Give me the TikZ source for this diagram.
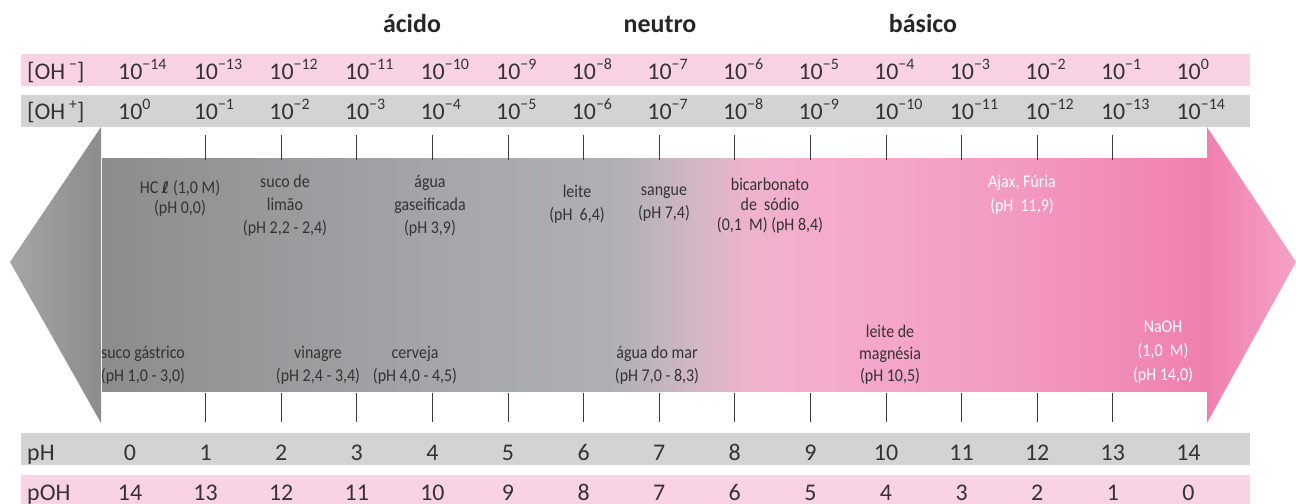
\documentclass[tikz,border=0pt]{standalone}
\usepackage{fontspec}
\setmainfont{Carlito}
\newfontfamily\dejavu{DejaVu Sans}
\newfontfamily\lblfont[FakeStretch=0.89]{Carlito}
\definecolor{rowpink}{HTML}{F9D3E3}
\definecolor{rowgrey}{HTML}{D1D3D4}
\definecolor{txt}{HTML}{333333}
\definecolor{tickc}{HTML}{3A3A3A}
\definecolor{cA}{HTML}{8C8C8E}
\definecolor{cB}{HTML}{9A9A9D}
\definecolor{cC}{HTML}{A6A7AA}
\definecolor{cD}{HTML}{B1B1B5}
\definecolor{cE}{HTML}{D2B7C5}
\definecolor{cF}{HTML}{EFB3CD}
\definecolor{cG}{HTML}{F4ADCD}
\definecolor{cH}{HTML}{F39BC2}
\definecolor{cI}{HTML}{F07FB0}
\definecolor{tipgrey}{HTML}{A6A6A8}
\definecolor{tippink}{HTML}{F4A3C6}
\pgfdeclarehorizontalshading{phbody}{100bp}{color(0bp)=(cA); color(25bp)=(cA); color(33bp)=(cB); color(41bp)=(cC); color(48.5bp)=(cD); color(51.8bp)=(cE); color(54.3bp)=(cF); color(57bp)=(cG); color(66bp)=(cH); color(75bp)=(cI); color(100bp)=(cI)}
\newcommand\ex[1]{10\raisebox{0.42em}{\fontsize{16}{16}\selectfont #1}}
\newcommand\supx[1]{\raisebox{0.42em}{\fontsize{16}{16}\selectfont #1}}
\begin{document}
\begin{tikzpicture}[x=1bp,y=-1bp,
  rowtxt/.style={font=\fontsize{24}{28}\selectfont, text=txt, inner sep=0pt},
  head/.style={font=\fontsize{26}{30}\selectfont\bfseries, text=black!85, inner sep=0pt, anchor=base},
  lbl/.style={align=center, font=\lblfont\fontsize{18}{23}\selectfont, text=txt, inner sep=0pt},
  lbltight/.style={align=center, font=\lblfont\fontsize{18}{20}\selectfont, text=txt, inner sep=0pt},
  lblmid/.style={align=center, font=\lblfont\fontsize{18}{22}\selectfont, text=txt, inner sep=0pt},
  wlbl/.style={align=center, font=\lblfont\fontsize{18}{24}\selectfont, text=white, inner sep=0pt},
  tick/.style={draw=tickc, line width=1bp}]
\useasboundingbox (0,0) rectangle (1296,504);
% headings
\node[head] (acido) at (412,33) {ácido};
\node[head] (neutro) at (660,33) {neutro};
\node[head] (basico) at (923,33) {básico};
% rows
\fill[rowpink] (21,54) rectangle (1250,86);
\fill[rowgrey] (21,95) rectangle (1250,127);
\fill[rowgrey] (21,433) rectangle (1250,465);
\fill[rowpink] (21,475) rectangle (1250,504);
\node[rowtxt, anchor=base west] (ohm) at (27,80) {[OH\,\supx{−}]};
\node[rowtxt, anchor=base west] (ohp) at (27,120) {[OH\,\supx{+}]};
\node[rowtxt, anchor=base west] (phl) at (27,460) {pH};
\node[rowtxt, anchor=base west] (pohl) at (27,500) {pOH};
\foreach \k in {0,...,14}{
  \pgfmathtruncatemacro\a{14-\k}
  \pgfmathtruncatemacro\c{14-\k}
  \ifnum\a=0 \def\sa{0}\else \edef\sa{−\a}\fi
  \ifnum\k=0 \def\sb{0}\else \edef\sb{−\k}\fi
  \node[rowtxt, anchor=base west] (r1-\k) at ({118+75.6*\k},80) {\ex{\sa}};
  \node[rowtxt, anchor=base west] (r2-\k) at ({118+75.6*\k},120) {\ex{\sb}};
  \node[rowtxt, anchor=base] (ph-\k) at ({130+75.6*\k},460) {\k};
  \node[rowtxt, anchor=base] (poh-\k) at ({130+75.6*\k},500) {\c};
}
% arrow
\shade[left color=tipgrey, right color=cA] (101,127) -- (101,423) -- (10,262) -- cycle;
\shade[left color=cI, right color=tippink] (1207,127) -- (1207,423) -- (1296,262) -- cycle;
\shade[shading=phbody] (102,159) rectangle (1207,392);
% ticks
\foreach \k in {1,...,13}{
  \coordinate (ta-\k) at ({130+75.6*\k},135);
  \coordinate (tb-\k) at ({130+75.6*\k},160);
  \coordinate (bb-\k) at ({130+75.6*\k},393);
  \coordinate (bc-\k) at ({130+75.6*\k},422);
  \draw[tick] (ta-\k) -- (tb-\k);
  \draw[tick] (bb-\k) -- (bc-\k);
}
% labels
\node[lbltight] (hcl) at (180,198) {HC {\dejavu\bfseries\fontsize{16}{20}\selectfont ℓ} (1,0 M)\\(pH 0,0)};
\node[lbl] (limao) at (285,206) {suco de\\limão\\(pH 2,2 - 2,4)};
\node[lbl] (agua) at (430,206) {água\\gaseificada\\(pH 3,9)};
\node[lbl] (gastrico) at (143,365) {suco gástrico\\(pH 1,0 - 3,0)};
\node[lbl] (vinagre) at (318,365) {vinagre\\(pH 2,4 - 3,4)};
\node[lbl] (cerveja) at (415,365) {cerveja\\(pH 4,0 - 4,5)};
\node[lbl] (leite) at (577,204) {leite\\(pH \ 6,4)};
\node[lbl] (sangue) at (664,204) {sangue\\(pH 7,4)};
\node[lbltight] (bicarb) at (770,206) {bicarbonato\\de \ sódio\\(0,1 \ M) (pH 8,4)};
\node[lbl] (mar) at (657,365) {água do mar\\(pH 7,0 - 8,3)};
\node[lblmid] (magnesia) at (890,355) {leite de\\magnésia\\(pH 10,5)};
\node[wlbl] (ajax) at (1022,195) {Ajax, Fúria\\ (pH \ 11,9)};
\node[wlbl] (naoh) at (1163,352) {NaOH\\ (1,0 \ M)\\(pH 14,0)};
\end{tikzpicture}
\end{document}
